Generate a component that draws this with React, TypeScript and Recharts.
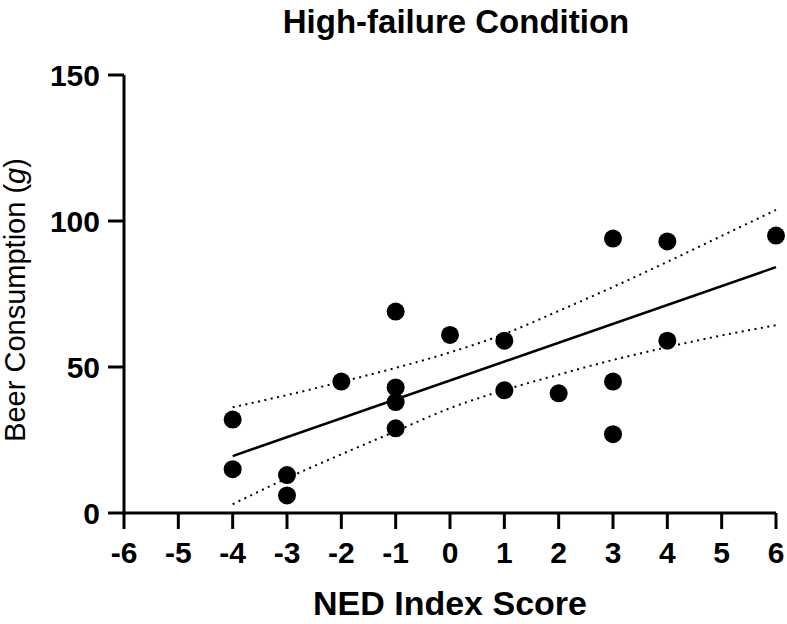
import React from "react"
import {
  ComposedChart,
  Scatter,
  Line,
  XAxis,
  YAxis,
  Label,
} from "recharts"

// NED index score vs beer consumption, one entry per participant
const nedScore = [-4, -4, -3, -3, -2, -1, -1, -1, -1, 0, 1, 1, 2, 3, 3, 3, 4, 4, 6]
const beerGrams = [32, 15, 13, 6, 45, 69, 43, 38, 29, 61, 59, 42, 41, 94, 45, 27, 93, 59, 95]

// fitted line and 95% band
const fitScore = [-4, 6]
const fitGrams = [19.5, 84.2]
const bandScore = [-4, -3, -2, -1, 0, 1, 2, 3, 4, 5, 6]
const bandUpper = [36.2, 40.4, 44.9, 49.7, 55.0, 61.3, 69.2, 77.4, 86.0, 94.9, 103.8]
const bandLower = [3.0, 11.9, 20.1, 28.0, 35.9, 42.1, 47.4, 52.4, 56.8, 60.8, 64.3]

const xTicks = [-6, -5, -4, -3, -2, -1, 0, 1, 2, 3, 4, 5, 6]
const yTicks = [0, 50, 100, 150]

const pts = nedScore.map((x, i) => ({ x, y: beerGrams[i] }))
const fit = fitScore.map((x, i) => ({ x, y: fitGrams[i] }))
const upper = bandScore.map((x, i) => ({ x, y: bandUpper[i] }))
const lower = bandScore.map((x, i) => ({ x, y: bandLower[i] }))

const FONT = '"Liberation Sans", Arial, sans-serif'
const tickStyle = { fontFamily: FONT, fontSize: 30, fontWeight: 700, fill: "#000" }
const axisStroke = { stroke: "#000", strokeWidth: 3 }

const Dot = (props: any) => <circle cx={props.cx} cy={props.cy} r={9} fill="#000" />

const XTitle = (props: any) => {
  const vb = props.viewBox
  return (
    <text
      x={vb.x + vb.width / 2}
      y={615}
      textAnchor="middle"
      fontFamily={FONT}
      fontSize={34}
      fontWeight={700}
      fill="#000"
    >
      NED Index Score
    </text>
  )
}

const YTitle = (props: any) => {
  const vb = props.viewBox
  const cx = 25
  const cy = vb.y + vb.height / 2 + 6
  return (
    <text
      x={cx}
      y={cy}
      transform={`rotate(-90, ${cx}, ${cy})`}
      textAnchor="middle"
      fontFamily={FONT}
      fontSize={29}
      fill="#000"
    >
      Beer Consumption (<tspan fontStyle="italic">g</tspan>)
    </text>
  )
}

export default function App() {
  return (
    <div style={{ position: "absolute", left: 0, top: 0, width: 787, height: 624, background: "#fff" }}>
      <div
        style={{
          position: "absolute",
          left: 156,
          top: 3,
          width: 600,
          textAlign: "center",
          fontFamily: FONT,
          fontSize: 33,
          lineHeight: "38px",
          fontWeight: 700,
          color: "#000",
        }}
      >
        High-failure Condition
      </div>
      <ComposedChart width={787} height={624} margin={{ top: 75, right: 11, bottom: 0, left: 0 }}>
        <XAxis
          type="number"
          dataKey="x"
          domain={[-6, 6]}
          ticks={xTicks}
          interval={0}
          height={111}
          tickSize={16}
          tickMargin={13}
          axisLine={axisStroke}
          tickLine={axisStroke}
          tick={tickStyle}
        >
          <Label content={<XTitle />} />
        </XAxis>
        <YAxis
          type="number"
          dataKey="y"
          domain={[0, 150]}
          ticks={yTicks}
          interval={0}
          width={124}
          tickSize={16}
          tickMargin={8}
          axisLine={axisStroke}
          tickLine={axisStroke}
          tick={tickStyle}
        >
          <Label content={<YTitle />} />
        </YAxis>
        <Line data={upper} dataKey="y" type="monotone" stroke="#000" strokeWidth={2} strokeDasharray="2 4.5" dot={false} activeDot={false} isAnimationActive={false} />
        <Line data={lower} dataKey="y" type="monotone" stroke="#000" strokeWidth={2} strokeDasharray="2 4.5" dot={false} activeDot={false} isAnimationActive={false} />
        <Line data={fit} dataKey="y" type="linear" stroke="#000" strokeWidth={2.5} dot={false} activeDot={false} isAnimationActive={false} />
        <Scatter data={pts} dataKey="y" shape={<Dot />} isAnimationActive={false} />
      </ComposedChart>
    </div>
  )
}
